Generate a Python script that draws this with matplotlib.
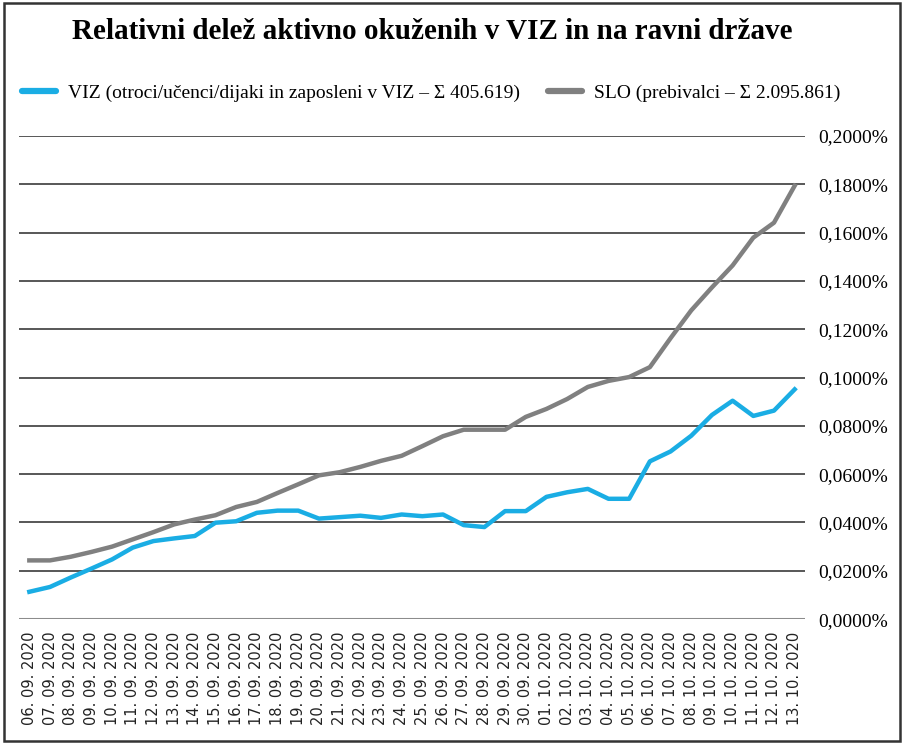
import matplotlib.pyplot as plt
from matplotlib.lines import Line2D
from matplotlib.patches import Rectangle
from matplotlib.ticker import FuncFormatter

# dates (06.09.2020 - 13.10.2020)
dates = ['%02d. 09. 2020' % d for d in range(6, 31)] + ['%02d. 10. 2020' % d for d in range(1, 14)]

# share of active infections (%)
viz = [0.0113, 0.0133, 0.0172, 0.0209, 0.0247, 0.0296, 0.0323, 0.0334, 0.0344, 0.0399,
       0.0405, 0.0440, 0.0449, 0.0449, 0.0416, 0.0422, 0.0428, 0.0419, 0.0433, 0.0426,
       0.0433, 0.0389, 0.0381, 0.0447, 0.0447, 0.0506, 0.0525, 0.0539, 0.0498, 0.0498,
       0.0653, 0.0694, 0.0759, 0.0845, 0.0904, 0.0841, 0.0863, 0.0951]
slo = [0.0243, 0.0243, 0.0258, 0.0278, 0.0300, 0.0330, 0.0360, 0.0392, 0.0412, 0.0430,
       0.0464, 0.0485, 0.0522, 0.0558, 0.0595, 0.0608, 0.0630, 0.0655, 0.0676, 0.0716,
       0.0757, 0.0784, 0.0784, 0.0784, 0.0837, 0.0870, 0.0911, 0.0961, 0.0986, 0.1002,
       0.1043, 0.1163, 0.1278, 0.1373, 0.1464, 0.1579, 0.1641, 0.1794]

viz_label = 'VIZ (otroci/učenci/dijaki in zaposleni v VIZ – Σ 405.619)'
slo_label = 'SLO (prebivalci – Σ 2.095.861)'

blue = '#1aade4'
grey = '#808080'
serif = 'Liberation Serif'

fig = plt.figure(figsize=(9.04, 7.45), dpi=100)
ax = fig.add_axes([0.021, 0.169, 0.8695, 0.6485])

x = list(range(len(dates)))
ax.plot(x, viz, color=blue, lw=3.2, solid_joinstyle='round')
ax.plot(x, slo, color=grey, lw=3.2, solid_joinstyle='round')

ax.set_xlim(-0.5, len(dates) - 0.5)
ax.set_ylim(0, 0.2)
ax.set_yticks([i * 0.02 for i in range(11)])
ax.yaxis.set_major_formatter(FuncFormatter(lambda v, p: ('%.4f%%' % v).replace('.', ',')))
ax.yaxis.tick_right()
ax.grid(axis='y', color='#4a4a4a', lw=1.3)
ax.axhline(0, color='#8c8c8c', lw=2.2, zorder=1)
ax.set_axisbelow(True)
for s in ax.spines.values():
    s.set_visible(False)
ax.tick_params(axis='y', length=0, pad=9.5, labelsize=14)
for t in ax.get_yticklabels():
    t.set_fontfamily(serif)

ax.set_xticks(x)
ax.set_xticklabels(dates, rotation=90, fontsize=10.5, color='#222222')
ax.tick_params(axis='x', length=0, pad=9)

fig.text(0.478, 0.958, 'Relativni delež aktivno okuženih v VIZ in na ravni države',
         ha='center', va='center', fontsize=21, fontweight='bold', family=serif)

handles = [Line2D([], [], color=blue, lw=4.5, solid_capstyle='round'),
           Line2D([], [], color=grey, lw=4.5, solid_capstyle='round')]
fig.legend(handles, [viz_label, slo_label], loc='center left', bbox_to_anchor=(0.024, 0.875),
           ncol=2, frameon=False, borderpad=0, borderaxespad=0, handlelength=1.75,
           handletextpad=0.65, columnspacing=1.4, prop={'family': serif, 'size': 14})

fig.patches.append(Rectangle((0.004, 0.006), 0.992, 0.99, transform=fig.transFigure,
                             fill=False, edgecolor='#333333', lw=1.8))

plt.savefig('out.png', dpi=100)
